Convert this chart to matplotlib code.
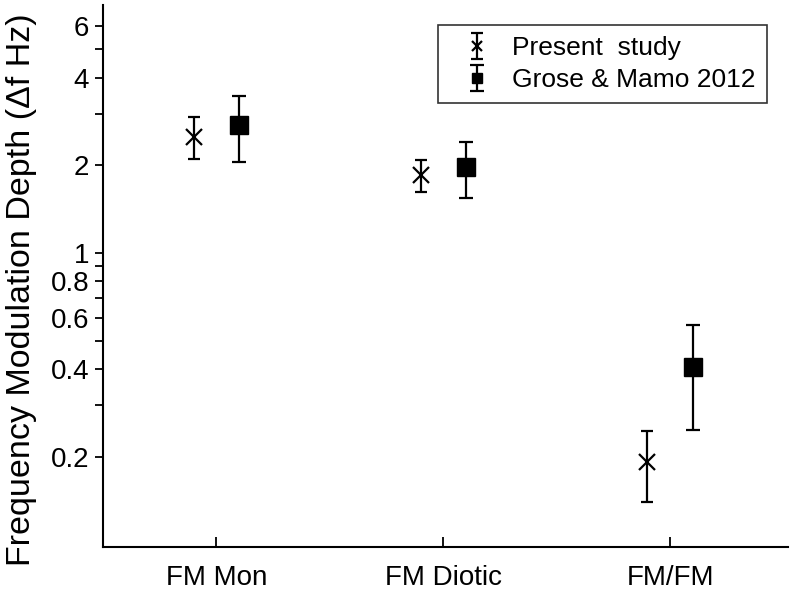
import matplotlib
matplotlib.use("Agg")
import matplotlib.pyplot as plt
from matplotlib.ticker import FixedLocator, FixedFormatter, NullFormatter
from matplotlib.container import ErrorbarContainer
from matplotlib.legend_handler import HandlerErrorbar
import numpy as np

categories = ["FM Mon", "FM Diotic", "FM/FM"]
present_mean = [2.50, 1.85, 0.192]
present_low = [2.10, 1.62, 0.140]
present_high = [2.92, 2.08, 0.246]
grose_mean = [2.74, 1.97, 0.407]
grose_low = [2.05, 1.54, 0.248]
grose_high = [3.45, 2.40, 0.567]

major_ticks = [0.2, 0.4, 0.6, 0.8, 1, 2, 4, 6]
major_labels = ["0.2", "0.4", "0.6", "0.8", "1", "2", "4", "6"]
minor_ticks = [0.3, 0.5, 0.7, 0.9, 3, 5]

plt.rcParams['font.family'] = ['Liberation Sans', 'DejaVu Sans']

fig = plt.figure(figsize=(7.91, 5.93), dpi=100)
ax = fig.add_axes([103/791, 1-547/593, (788-103)/791, (547-5)/593])

x = np.arange(1, len(categories) + 1)
pm = np.array(present_mean)
gm = np.array(grose_mean)
p_err = [pm - np.array(present_low), np.array(present_high) - pm]
g_err = [gm - np.array(grose_low), np.array(grose_high) - gm]

e1 = ax.errorbar(x - 0.1, pm, yerr=p_err, fmt='x', color='black', ms=12, mew=1.6,
                 elinewidth=1.6, capsize=4.5, capthick=1.6, label='Present  study')
e2 = ax.errorbar(x + 0.1, gm, yerr=g_err, fmt='s', color='black', ms=13,
                 elinewidth=1.6, capsize=4.8, capthick=1.6, label='Grose & Mamo 2012')

ax.set_yscale('log')
ax.set_ylim(0.098, 7.1)
ax.set_xlim(0.5, 3.52)
ax.yaxis.set_major_locator(FixedLocator(major_ticks))
ax.yaxis.set_major_formatter(FixedFormatter(major_labels))
ax.yaxis.set_minor_locator(FixedLocator(minor_ticks))
ax.yaxis.set_minor_formatter(NullFormatter())
ax.set_xticks(x)
ax.set_xticklabels(categories)

ax.spines['top'].set_visible(False)
ax.spines['right'].set_visible(False)
ax.spines['left'].set_linewidth(1.5)
ax.spines['bottom'].set_linewidth(1.5)

ax.tick_params(axis='y', which='both', direction='out', length=6, width=1.3,
               labelsize=20, pad=4)
ax.tick_params(axis='x', which='major', direction='in', length=7, width=1.3,
               labelsize=20, pad=13)

ax.set_ylabel('Frequency Modulation Depth (\u0394f Hz)', fontsize=24.5)
ax.yaxis.set_label_coords((37-103)/685, (547-290)/542)

leg = ax.legend(handles=[e1, e2], loc='upper right',
                bbox_to_anchor=(767/791, 1-25/593), bbox_transform=fig.transFigure,
                borderaxespad=0, fontsize=19, markerscale=0.55, frameon=True,
                fancybox=False, edgecolor='black', handlelength=2.1,
                handletextpad=0.3, labelspacing=0.3, borderpad=0.42,
                handler_map={ErrorbarContainer: HandlerErrorbar(xerr_size=0.5, yerr_size=0.5)})
leg.get_frame().set_linewidth(1.2)

fig.savefig('out.png', dpi=100)
